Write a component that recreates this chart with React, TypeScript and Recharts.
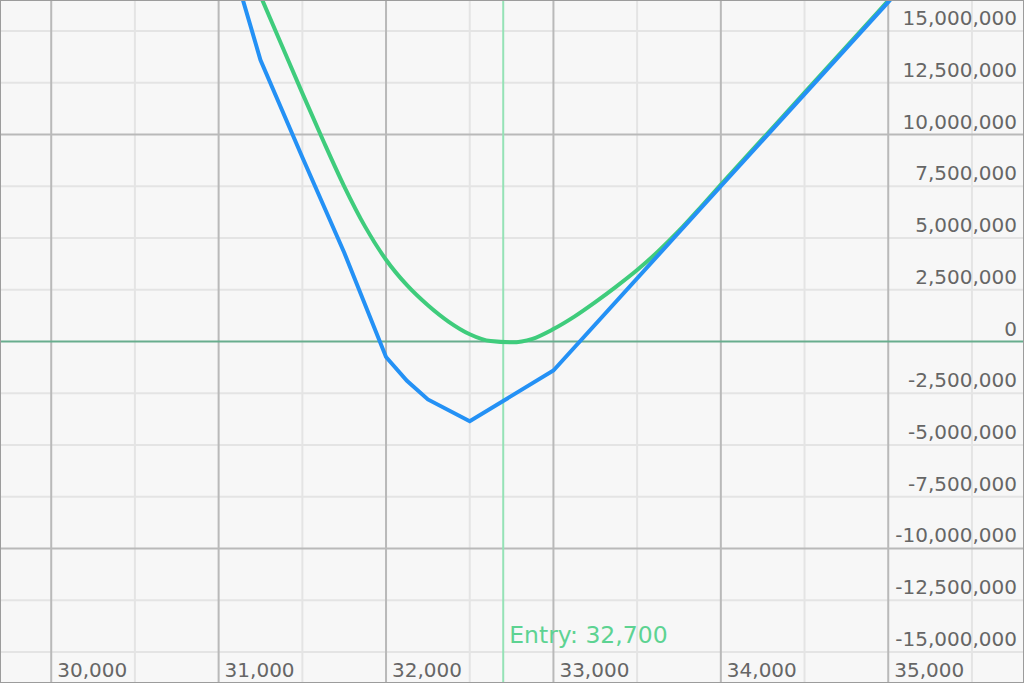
import React from "react"
import { LineChart, Line, XAxis, YAxis, ReferenceLine } from "recharts"

// price axis
const priceTicks = [30000, 31000, 32000, 33000, 34000, 35000]
const priceMinor = [30500, 31500, 32500, 33500, 34500, 35500]
const entryPrice = 32700

// pnl axis
const pnlTicks = [
  -15000000, -12500000, -10000000, -7500000, -5000000, -2500000, 0,
  2500000, 5000000, 7500000, 10000000, 12500000, 15000000,
]
const pnlMajor = [-10000000, 10000000]
const pnlMinor = [-15000000, -12500000, -7500000, -5000000, -2500000, 2500000, 5000000, 7500000, 12500000, 15000000]

// payoff at expiry (blue)
const expiryPrices = [31000, 31250, 31500, 31750, 32000, 32125, 32250, 32500, 33000, 34000, 35000, 35800]
const expiryPnl = [
  20500000, 13600000, 8900000, 4300000, -750000, -1900000, -2800000, -3850000,
  -1400000, 7500000, 16400000, 23600000,
]

// current value (green)
const currentPrices = [
  31000, 31250, 31375, 31500, 31625, 31750, 31875, 32000, 32125, 32250, 32375, 32500,
  32625, 32750, 32875, 33000, 33125, 33250, 33375, 33500, 33625, 33750, 33875,
  34000, 34250, 34500, 35000, 35800,
]
const currentPnl = [
  21400000, 16700000, 14350000, 12000000, 9700000, 7500000, 5550000, 3950000, 2720000,
  1750000, 950000, 350000, 20000, -40000, 130000, 600000, 1200000, 1900000, 2650000,
  3450000, 4350000, 5350000, 6450000, 7580000, 9800000, 12020000, 16470000, 23600000,
]

const expiryData = expiryPrices.map((p, i) => ({ price: p, pnl: expiryPnl[i] }))
const currentData = currentPrices.map((p, i) => ({ price: p, pnl: currentPnl[i] }))

const FONT = "'DejaVu Sans', Verdana, sans-serif"
const fmt = (v: number) => v.toLocaleString("en-US")

const YTick = (props: any) => {
  const { x, y, payload } = props
  return (
    <text x={x} y={y - 6} textAnchor="end" fill="#666" fontSize={20} fontFamily={FONT}>
      {fmt(payload.value)}
    </text>
  )
}

const XTick = (props: any) => {
  const { x, y, payload } = props
  return (
    <text x={x + 6} y={y} textAnchor="start" fill="#666" fontSize={20} fontFamily={FONT}>
      {fmt(payload.value)}
    </text>
  )
}

const EntryLabel = (props: any) => {
  const { viewBox } = props
  return (
    <text
      x={viewBox.x + 6}
      y={viewBox.y + viewBox.height - 39}
      fill="#5dd392"
      fontSize={23.5}
      fontFamily={FONT}
    >
      {`Entry: ${fmt(entryPrice)}`}
    </text>
  )
}

export default function App() {
  return (
    <div
      style={{
        position: "fixed",
        left: 0,
        top: 0,
        width: 1022,
        height: 681,
        border: "1px solid #9c9c9c",
        background: "#f7f7f7",
      }}
    >
      <LineChart width={1022} height={681} margin={{ top: 0, right: 0, bottom: 0, left: 0 }}>
        <XAxis
          type="number"
          dataKey="price"
          domain={[29700, 35805]}
          ticks={priceTicks}
          interval={0}
          mirror
          axisLine={false}
          tickLine={false}
          tickSize={0}
          tickMargin={5}
          tick={<XTick />}
          allowDataOverflow
        />
        <YAxis
          type="number"
          dataKey="pnl"
          orientation="right"
          domain={[-16450000, 16450000]}
          ticks={pnlTicks}
          interval={0}
          mirror
          axisLine={false}
          tickLine={false}
          tickSize={0}
          tickMargin={6}
          tick={<YTick />}
          allowDataOverflow
        />

        {/* minor grid */}
        {priceMinor.map(v => (
          <ReferenceLine key={"vx" + v} x={v} stroke="#e4e4e4" strokeWidth={2} />
        ))}
        {pnlMinor.map(v => (
          <ReferenceLine key={"hy" + v} y={v} stroke="#e4e4e4" strokeWidth={2} />
        ))}
        {/* major grid */}
        {priceTicks.map(v => (
          <ReferenceLine key={"VX" + v} x={v} stroke="#b9b9b9" strokeWidth={2} />
        ))}
        {pnlMajor.map(v => (
          <ReferenceLine key={"HY" + v} y={v} stroke="#b9b9b9" strokeWidth={2} />
        ))}

        <ReferenceLine y={0} stroke="#68ad8e" strokeWidth={2} />
        <ReferenceLine x={entryPrice} stroke="#95e2b6" strokeWidth={2} label={<EntryLabel />} />

        <Line
          data={currentData}
          dataKey="pnl"
          type="monotone"
          stroke="#3fcc7c"
          strokeWidth={4}
          dot={false}
          isAnimationActive={false}
        />
        <Line
          data={expiryData}
          dataKey="pnl"
          type="linear"
          stroke="#2491f5"
          strokeWidth={4}
          dot={false}
          isAnimationActive={false}
        />
      </LineChart>
    </div>
  )
}
